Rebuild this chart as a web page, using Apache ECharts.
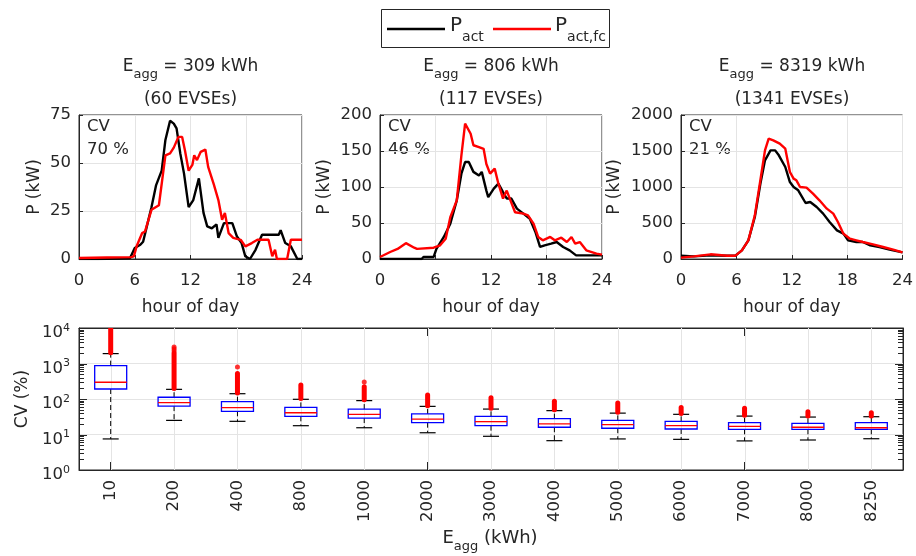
<!DOCTYPE html>
<html><head><meta charset="utf-8">
<script src="https://cdn.jsdelivr.net/npm/echarts@6/dist/echarts.min.js"></script>
<style>html,body{margin:0;padding:0;background:#fff}#c{width:916px;height:556px}</style>
</head><body><div id="c"></div>
<script>
// ---------- data: top panels (hour of day, kW) ----------
const p1HoursAct = [0, 2, 4, 5.5, 6.0, 6.6, 6.9, 7.3, 7.8, 8.3, 8.9, 9.3, 9.8, 10.2, 10.5, 10.9, 11.3, 11.8, 12.3, 12.9, 13.4, 13.8, 14.3, 14.8, 15.0, 15.6, 16.5, 17.0, 17.5, 17.9, 18.4, 19.0, 19.7, 20.6, 21.5, 21.7, 22.2, 22.8, 23.5, 24];
const p1Act      = [0, 0, 0.2, 0.5, 5.7, 7.4, 9, 17, 27, 38.5, 46, 62, 72, 70.5, 68, 55, 44.6, 27, 30.7, 42, 24, 17, 16, 18, 11, 18.7, 18.7, 11.7, 8.3, 1.4, 0, 4.8, 12.6, 12.6, 12.6, 15, 8.3, 6.6, 0, 0];
const p1HoursFc  = [0, 3, 5.6, 5.9, 6.2, 6.8, 7.1, 7.8, 8.6, 8.7, 9.3, 9.8, 10.2, 10.7, 11.1, 11.4, 11.8, 12.2, 12.4, 12.7, 13.1, 13.6, 13.9, 14.5, 15.0, 15.4, 15.7, 16.1, 16.6, 17.4, 17.9, 18.6, 19.2, 20.4, 20.8, 21.1, 21.3, 22.4, 22.8, 24];
const p1Fc       = [0.5, 0.8, 1, 1.4, 6.6, 13.5, 14.3, 25.6, 28, 29, 54, 55, 58, 63.6, 63.6, 56.6, 46, 49, 54, 51.5, 55.8, 57, 48, 39, 30.7, 20.4, 24, 13.5, 11, 10, 6.6, 8.3, 10, 10, 1.4, 4.8, 0, 0, 10, 10];

const p2HoursAct = [0, 2, 4.5, 4.7, 5.8, 6.1, 6.9, 7.6, 8.3, 8.8, 9.2, 9.6, 10.1, 10.7, 11.0, 11.5, 11.7, 12.3, 12.8, 13.3, 13.7, 14.2, 14.8, 15.5, 16.2, 16.8, 17.3, 17.8, 18.5, 19.1, 19.8, 20.5, 21.2, 22.3, 23.4, 24];
const p2Act      = [0, 0, 0, 2.8, 2.8, 14, 30.6, 49, 81.5, 118.5, 134.7, 134.7, 121, 116, 121, 95, 86, 97.7, 104.6, 93, 84, 84, 70, 63, 56, 37.5, 16.7, 19, 21.3, 23.6, 16.7, 12, 5, 5, 5, 5];
const p2HoursFc  = [0, 1.1, 1.9, 2.8, 3.7, 4.0, 5.8, 6.5, 7.1, 7.6, 8.3, 8.8, 9.2, 9.4, 9.8, 10.1, 10.7, 11.2, 11.5, 11.9, 12.4, 12.8, 13.3, 13.7, 14.1, 14.6, 15.5, 16.0, 16.6, 17.1, 17.6, 18.4, 18.9, 19.6, 20.2, 20.7, 21.1, 21.6, 22.3, 23.4, 24];
const p2Fc       = [2.8, 9.7, 14, 22, 15.7, 14, 15.7, 19, 28, 58, 81.5, 144, 188, 188, 174, 158, 155.5, 153, 132, 118.5, 125.5, 104.6, 84, 95, 81.5, 65, 63, 60.6, 49, 30.6, 26, 30.6, 26, 29.6, 23.6, 30.6, 21.3, 23.6, 12, 7.4, 6];

const p3HoursAct = [0, 1.4, 3.2, 4.9, 5.9, 6.6, 7.3, 8.0, 8.6, 9.1, 9.7, 10.2, 10.6, 11.3, 11.8, 12.2, 12.7, 13.5, 14.0, 14.7, 15.4, 16.1, 16.9, 17.6, 18.1, 19.0, 19.7, 20.5, 21.5, 22.6, 24];
const p3Act      = [46, 37, 51, 46, 46, 120, 259, 583, 1046, 1370, 1509, 1509, 1440, 1278, 1069, 1000, 954, 778, 792, 722, 630, 514, 398, 352, 259, 236, 236, 190, 167, 130, 93];
const p3HoursFc  = [0, 1.4, 3.2, 5.0, 5.9, 6.6, 7.3, 8.0, 8.6, 9.1, 9.5, 10.0, 10.7, 11.3, 11.8, 12.2, 12.5, 12.9, 13.6, 14.3, 15.0, 15.8, 16.5, 17.0, 17.6, 18.3, 19.0, 19.7, 20.8, 21.9, 23.0, 24];
const p3Fc       = [19, 37, 65, 46, 46, 120, 259, 606, 1093, 1509, 1671, 1648, 1602, 1532, 1208, 1116, 1093, 1000, 991, 907, 815, 699, 630, 514, 352, 282, 259, 236, 204, 167, 130, 93];

const panelEagg  = ['309', '806', '8319'];
const panelEvse  = ['60', '117', '1341'];
const panelCV    = ['70', '46', '21'];
const panelYMax  = [75, 200, 2000];
const panelYStep = [25, 50, 500];
const hourTicks  = [0, 24, 6];  // min, max, interval

// ---------- data: box plot (CV %) ----------
const categories  = ['10', '200', '400', '800', '1000', '2000', '3000', '4000', '5000', '6000', '7000', '8000', '8250'];
const whiskerLow  = [7.5, 25, 23.5, 17.7, 15.5, 11.2, 8.9, 6.7, 7.5, 7.3, 6.6, 7, 7.6];
const q1          = [191, 63, 45, 32.5, 29, 21.5, 17.7, 16, 15, 14.3, 14, 14, 14];
const medians     = [296, 79, 57, 41, 37, 27, 23, 20, 19, 17.7, 17, 16, 15.5];
const q3          = [870, 112, 84, 58, 52, 38, 32.5, 28, 25, 23.5, 21.5, 20.7, 21.5];
const whiskerHigh = [1900, 187, 141, 98, 90, 62, 52, 47, 40, 37, 33, 31, 31.7];
const outlierLow  = [2000, 196, 148, 103, 95, 65, 55, 50, 42, 39, 35, 33, 33];
const outlierHigh = [9700, 1990, 527, 248, 222, 129, 109, 86, 77, 58, 55, 44, 41];
const outlierCat  = [1, 1, 1, 2, 4];
const outlierVal  = [2300, 2600, 2900, 795, 300];
const logTicks    = [1, 10, 100, 1000, 10000];

// ---------- chart ----------
const FONT = 'DejaVu Sans';
const TXT = '#262626';
const GRIDC = '#e4e4e4';
const topGrids = [
  {left: 79, top: 115, width: 223, height: 144},
  {left: 380, top: 115, width: 222, height: 144},
  {left: 681, top: 115, width: 222, height: 144}
];
const yNameGap = [36, 47, 58];

const grids = topGrids.map(g => Object.assign({show: true, borderColor: TXT, borderWidth: 1, backgroundColor: '#fff'}, g));
grids.push({left: 79, top: 328, width: 824, height: 142, show: true, borderColor: TXT, borderWidth: 1, backgroundColor: '#fff'});

const xAxes = [], yAxes = [], series = [];
const pairs = [[p1HoursAct, p1Act, p1HoursFc, p1Fc], [p2HoursAct, p2Act, p2HoursFc, p2Fc], [p3HoursAct, p3Act, p3HoursFc, p3Fc]];
for (let i = 0; i < 3; i++) {
  xAxes.push({
    type: 'value', gridIndex: i, min: hourTicks[0], max: hourTicks[1], interval: hourTicks[2],
    name: 'hour of day', nameLocation: 'middle', nameGap: 40,
    nameTextStyle: {fontFamily: FONT, fontSize: 17, color: TXT},
    axisLine: {show: true, lineStyle: {color: TXT}},
    axisTick: {show: true, inside: true, length: 4, lineStyle: {color: TXT}},
    axisLabel: {fontFamily: FONT, fontSize: 16.5, color: TXT, margin: 13, formatter: v => String(v)},
    splitLine: {show: true, lineStyle: {color: GRIDC}}
  });
  yAxes.push({
    type: 'value', gridIndex: i, min: 0, max: panelYMax[i], interval: panelYStep[i],
    name: 'P (kW)', nameLocation: 'middle', nameGap: yNameGap[i],
    nameTextStyle: {fontFamily: FONT, fontSize: 17, color: TXT},
    axisLine: {show: true, lineStyle: {color: TXT}},
    axisTick: {show: true, inside: true, length: 4, lineStyle: {color: TXT}},
    axisLabel: {fontFamily: FONT, fontSize: 16.5, color: TXT, margin: 8, formatter: v => String(v)},
    splitLine: {show: true, lineStyle: {color: GRIDC}}
  });
  const [ha, va, hf, vf] = pairs[i];
  series.push({
    name: 'P_act', type: 'line', xAxisIndex: i, yAxisIndex: i, showSymbol: false, symbol: 'none',
    lineStyle: {color: '#000000', width: 2.4}, itemStyle: {color: '#000000'},
    data: ha.map((h, k) => [h, va[k]]), z: 3
  });
  series.push({
    name: 'P_act,fc', type: 'line', xAxisIndex: i, yAxisIndex: i, showSymbol: false, symbol: 'none',
    lineStyle: {color: '#ff0000', width: 2.4}, itemStyle: {color: '#ff0000'},
    data: hf.map((h, k) => [h, vf[k]]), z: 4
  });
}

// bottom box plot axes
xAxes.push({
  type: 'category', gridIndex: 3, data: categories, boundaryGap: true, position: 'bottom',
  axisLine: {show: true, lineStyle: {color: TXT}},
  axisTick: {show: true, inside: true, length: 8, alignWithLabel: true, interval: 0, lineStyle: {color: TXT}},
  axisLabel: {fontFamily: FONT, fontSize: 16.5, color: TXT, rotate: 90, margin: 10, interval: 0},
  splitLine: {show: false}
});
xAxes.push({
  type: 'category', gridIndex: 3, data: categories, boundaryGap: true, position: 'top',
  axisLine: {show: true, lineStyle: {color: TXT}},
  axisTick: {show: true, inside: true, length: 8, alignWithLabel: true, interval: 0, lineStyle: {color: TXT}},
  axisLabel: {show: false}, splitLine: {show: false}
});
const supFmt = v => '{b|10}{s|' + Math.round(Math.log10(v)) + '}';
yAxes.push({
  type: 'log', logBase: 10, gridIndex: 3, min: logTicks[0], max: logTicks[logTicks.length - 1], splitNumber: 4,
  name: 'CV (%)', nameLocation: 'middle', nameGap: 46,
  nameTextStyle: {fontFamily: FONT, fontSize: 17, color: TXT},
  axisLine: {show: true, lineStyle: {color: TXT}},
  axisTick: {show: false}, minorTick: {show: false},
  axisLabel: {
    color: TXT, margin: 9, formatter: supFmt,
    rich: {
      b: {fontFamily: FONT, fontSize: 16.5, color: TXT, padding: [10, 0, 0, 0], verticalAlign: 'middle'},
      s: {fontFamily: FONT, fontSize: 11, color: TXT, padding: [0, 0, 0, 0], verticalAlign: 'middle'}
    }
  },
  splitLine: {show: true, lineStyle: {color: GRIDC}}
});
yAxes.push({
  type: 'log', logBase: 10, gridIndex: 3, min: logTicks[0], max: logTicks[logTicks.length - 1], splitNumber: 4, position: 'right',
  axisLine: {show: true, lineStyle: {color: TXT}},
  axisTick: {show: false}, minorTick: {show: false},
  axisLabel: {show: false}, splitLine: {show: false}
});

// vertical grid lines at category centres (drawn behind the boxes)
series.push({
  type: 'custom', xAxisIndex: 3, yAxisIndex: 3, silent: true, z: 1,
  encode: {x: 0, y: 1},
  data: categories.map((c, i) => [i, logTicks[0]]),
  renderItem: (params, api) => {
    const cs = params.coordSys;
    const x = Math.round(api.coord([api.value(0), logTicks[0]])[0]) + 0.5;
    return {type: 'line', shape: {x1: x, y1: cs.y, x2: x, y2: cs.y + cs.height}, style: {stroke: GRIDC, lineWidth: 1}};
  }
});

// log ticks, major (10^k) and minor (2..9 x 10^k), on both sides
const logTickMarks = [];
for (let k = 0; k <= 4; k++) {
  logTickMarks.push([0, Math.pow(10, k), 8]);
  if (k < 4) for (let m = 2; m <= 9; m++) logTickMarks.push([0, m * Math.pow(10, k), 5]);
}
series.push({
  type: 'custom', xAxisIndex: 3, yAxisIndex: 3, silent: true, z: 6,
  data: logTickMarks, encode: {x: 0, y: 1},
  renderItem: (params, api) => {
    const cs = params.coordSys;
    const len = api.value(2);
    const y = Math.round(api.coord([0, api.value(1)])[1]) + 0.5;
    return {type: 'group', children: [
      {type: 'line', shape: {x1: cs.x, y1: y, x2: cs.x + len, y2: y}, style: {stroke: TXT, lineWidth: 1}},
      {type: 'line', shape: {x1: cs.x + cs.width - len, y1: y, x2: cs.x + cs.width, y2: y}, style: {stroke: TXT, lineWidth: 1}}
    ]};
  }
});

// boxes
series.push({
  type: 'custom', xAxisIndex: 3, yAxisIndex: 3, silent: true, z: 4,
  dimensions: ['cat', 'wl', 'q1', 'med', 'q3', 'wh'],
  encode: {x: 0, y: [1, 2, 3, 4, 5]},
  data: categories.map((c, i) => [i, whiskerLow[i], q1[i], medians[i], q3[i], whiskerHigh[i]]),
  renderItem: (params, api) => {
    const i = api.value(0);
    const x = api.coord([i, api.value(3)])[0];
    const yWL = api.coord([i, api.value(1)])[1];
    const yQ1 = api.coord([i, api.value(2)])[1];
    const yMed = api.coord([i, api.value(3)])[1];
    const yQ3 = api.coord([i, api.value(4)])[1];
    const yWH = api.coord([i, api.value(5)])[1];
    const bw = 16, cw = 8;
    const wStyle = {stroke: '#000', lineWidth: 1, lineDash: [5, 3]};
    return {type: 'group', children: [
      {type: 'line', shape: {x1: x, y1: yQ1, x2: x, y2: yWL}, style: wStyle},
      {type: 'line', shape: {x1: x, y1: yQ3, x2: x, y2: yWH}, style: wStyle},
      {type: 'line', shape: {x1: x - cw, y1: yWL, x2: x + cw, y2: yWL}, style: {stroke: '#000', lineWidth: 1.2}},
      {type: 'line', shape: {x1: x - cw, y1: yWH, x2: x + cw, y2: yWH}, style: {stroke: '#000', lineWidth: 1.2}},
      {type: 'rect', shape: {x: x - bw, y: yQ3, width: 2 * bw, height: yQ1 - yQ3}, style: {fill: 'rgba(0,0,0,0)', stroke: '#0000ff', lineWidth: 1.3}},
      {type: 'line', shape: {x1: x - bw, y1: yMed, x2: x + bw, y2: yMed}, style: {stroke: '#ff0000', lineWidth: 1.3}}
    ]};
  }
});

// dense outliers
series.push({
  type: 'custom', xAxisIndex: 3, yAxisIndex: 3, silent: true, z: 5, clip: true,
  encode: {x: 0, y: [1, 2]},
  data: categories.map((c, i) => [i, outlierLow[i], outlierHigh[i]]),
  renderItem: (params, api) => {
    const i = api.value(0);
    const a = api.coord([i, api.value(1)]);
    const b = api.coord([i, api.value(2)]);
    return {type: 'line', shape: {x1: a[0], y1: a[1], x2: b[0], y2: b[1]}, style: {stroke: '#ff0000', lineWidth: 5, lineCap: 'round'}};
  }
});
// isolated outliers
series.push({
  type: 'scatter', xAxisIndex: 3, yAxisIndex: 3, symbol: 'circle', symbolSize: 5, z: 5,
  itemStyle: {color: '#ff0000'},
  data: outlierCat.map((c, k) => [c, outlierVal[k]])
});

// texts
const graphics = [];
const titleRich = {
  m: {fontFamily: FONT, fontSize: 17, fill: TXT, color: TXT, verticalAlign: 'middle'},
  s: {fontFamily: FONT, fontSize: 13, fill: TXT, color: TXT, padding: [16, 0, 0, 0], verticalAlign: 'middle'}
};
for (let i = 0; i < 3; i++) {
  const g = topGrids[i];
  const cx = g.left + g.width / 2;
  graphics.push({type: 'text', x: cx, y: 67, style: {
    text: '{m|E}{s|agg}{m| = ' + panelEagg[i] + ' kWh}', rich: titleRich,
    textAlign: 'center', align: 'center', textVerticalAlign: 'middle', verticalAlign: 'middle'}});
  graphics.push({type: 'text', x: cx, y: 100, style: {
    text: '(' + panelEvse[i] + ' EVSEs)', fontFamily: FONT, fontSize: 17, fill: TXT,
    textAlign: 'center', align: 'center', textVerticalAlign: 'middle', verticalAlign: 'middle'}});
  graphics.push({type: 'text', x: g.left + 8, y: 127, style: {
    text: 'CV', fontFamily: FONT, fontSize: 16.5, fill: TXT,
    textAlign: 'left', align: 'left', textVerticalAlign: 'middle', verticalAlign: 'middle'}});
  graphics.push({type: 'text', x: g.left + 8, y: 150, style: {
    text: panelCV[i] + ' %', fontFamily: FONT, fontSize: 16.5, fill: TXT,
    textAlign: 'left', align: 'left', textVerticalAlign: 'middle', verticalAlign: 'middle'}});
}
// x axis name of box plot
graphics.push({type: 'text', x: 490, y: 538, style: {
  text: '{m|E}{s|agg}{m| (kWh)}',
  rich: {
    m: {fontFamily: FONT, fontSize: 18, fill: TXT, color: TXT, verticalAlign: 'middle'},
    s: {fontFamily: FONT, fontSize: 13, fill: TXT, color: TXT, padding: [17, 0, 0, 0], verticalAlign: 'middle'}
  },
  textAlign: 'center', align: 'center', textVerticalAlign: 'middle', verticalAlign: 'middle'}});
// legend
const legRich = {
  m: {fontFamily: FONT, fontSize: 20, fill: TXT, color: TXT, verticalAlign: 'middle'},
  s: {fontFamily: FONT, fontSize: 14, fill: TXT, color: TXT, padding: [22, 0, 0, 0], verticalAlign: 'middle'}
};
graphics.push({type: 'rect', shape: {x: 381.5, y: 9.5, width: 228, height: 38}, style: {fill: '#fff', stroke: TXT, lineWidth: 1}});
graphics.push({type: 'line', shape: {x1: 387, y1: 29, x2: 445, y2: 29}, style: {stroke: '#000', lineWidth: 2.4}});
graphics.push({type: 'text', x: 450, y: 26, style: {text: '{m|P}{s|act}', rich: legRich,
  textAlign: 'left', align: 'left', textVerticalAlign: 'middle', verticalAlign: 'middle'}});
graphics.push({type: 'line', shape: {x1: 493, y1: 29, x2: 551, y2: 29}, style: {stroke: '#ff0000', lineWidth: 2.4}});
graphics.push({type: 'text', x: 555, y: 26, style: {text: '{m|P}{s|act,fc}', rich: legRich,
  textAlign: 'left', align: 'left', textVerticalAlign: 'middle', verticalAlign: 'middle'}});

const chart = echarts.init(document.getElementById('c'), null, {renderer: 'canvas'});
chart.setOption({
  animation: false,
  backgroundColor: '#ffffff',
  textStyle: {fontFamily: FONT},
  grid: grids,
  xAxis: xAxes,
  yAxis: yAxes,
  series: series,
  graphic: {elements: graphics}
});
</script>
</body></html>
